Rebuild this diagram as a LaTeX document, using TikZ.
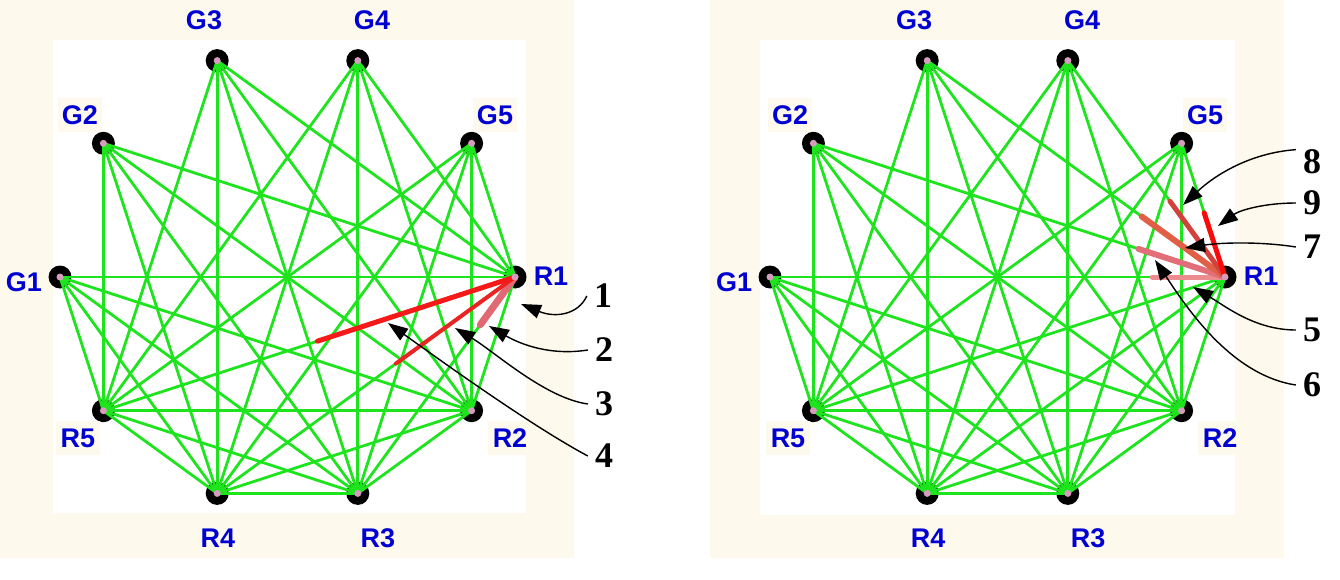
\documentclass[tikz,border=0pt]{standalone}
\usepackage{fontspec}
\setmainfont{Liberation Serif}
\newfontfamily\lblfont{Liberation Sans}
\usetikzlibrary{calc,arrows.meta}
\definecolor{cream}{RGB}{254,249,237}
\definecolor{edgegreen}{RGB}{30,228,30}
\definecolor{lblblue}{RGB}{0,0,210}
\definecolor{dotpink}{RGB}{215,155,190}
\definecolor{redA}{RGB}{245,25,25}
\definecolor{redB}{RGB}{235,35,35}
\definecolor{redC}{RGB}{225,105,115}
\definecolor{redNine}{RGB}{250,10,10}
\definecolor{redEight}{RGB}{210,65,60}
\definecolor{redSeven}{RGB}{225,95,70}
\definecolor{redSix}{RGB}{225,110,120}
\definecolor{redFive}{RGB}{235,140,145}
\begin{document}
\begin{tikzpicture}[x=1pt,y=-1pt,
  vtx/.style={circle,fill=black,minimum size=23pt,inner sep=0pt},
  edge/.style={draw=edgegreen,line width=2.8pt},
  vlabel/.style={fill=cream,minimum width=44pt,minimum height=34pt,inner sep=0pt,
    text=lblblue,font=\lblfont\bfseries\fontsize{27}{27}\selectfont},
  numlabel/.style={inner xsep=7pt,inner ysep=0pt,font=\bfseries\fontsize{36}{36}\selectfont},
  seg/.style={line cap=round},
  callout/.style={draw=black,line width=1.4pt,-{Triangle[length=20pt,width=14pt]}}]
\useasboundingbox (0,0) rectangle (1340,580);
\fill[white] (0,0) rectangle (1340,580);
\fill[cream] (0,0) rectangle (574,558);
\fill[white] (53,40) rectangle (526,513);
\fill[cream] (710,0) rectangle (1284,558);
\fill[white] (760,40) rectangle (1235,515);
% vertices
\foreach \p/\ox in {L/0,R/710}{
  \foreach \n/\x/\y in {G1/60/277,G2/103.4/143.3,G3/217.2/60.6,G4/357.8/60.6,G5/471.6/143.3,
                        R1/515/277,R2/471.6/410.7,R3/357.8/493.4,R4/217.2/493.4,R5/103.4/410.7}{
    \node[vtx] (\p\n) at (\x+\ox,\y) {};
  }
}
% edges
\foreach \p in {L,R}{
  \foreach \g in {G1,G2,G3,G4,G5}{
    \foreach \r in {R1,R2,R3,R4,R5}{
      \draw[edge] (\p\g.center) -- (\p\r.center);
    }
  }
  \foreach \a/\b in {R1/R2,R1/R3,R1/R4,R1/R5,R2/R3,R2/R4,R2/R5,R3/R4,R3/R5,R4/R5}{
    \draw[edge] (\p\a.center) -- (\p\b.center);
  }
}
% red partial segments, left panel
\draw[seg,draw=redC,line width=7pt] (LR1.center) -- ($(LR1.center)!0.22!(LR3.center)$);
\draw[seg,draw=redB,line width=4pt] (LR1.center) -- ($(LR1.center)!0.40!(LR4.center)$);
\draw[seg,draw=redA,line width=5pt] (LR1.center) -- ($(LR1.center)!0.48!(LR5.center)$);
% red partial segments, right panel
\draw[seg,draw=redFive,line width=5pt] (RR1.center) -- ($(RR1.center)!0.16!(RG1.center)$);
\draw[seg,draw=redSix,line width=6pt] (RR1.center) -- ($(RR1.center)!0.21!(RG2.center)$);
\draw[seg,draw=redSeven,line width=6pt] (RR1.center) -- ($(RR1.center)!0.28!(RG3.center)$);
\draw[seg,draw=redEight,line width=5pt] (RR1.center) -- ($(RR1.center)!0.35!(RG4.center)$);
\draw[seg,draw=redNine,line width=5pt] (RR1.center) -- ($(RR1.center)!0.48!(RG5.center)$);
% pink centre dots
\foreach \p in {L,R}{
  \foreach \n in {G1,G2,G3,G4,G5,R1,R2,R3,R4,R5}{
    \fill[dotpink] (\p\n.center) circle (3.5);
  }
}
% vertex labels
\foreach \p/\ox in {L/0,R/710}{
  \foreach \n/\x/\y in {G1/24/282,G2/80/115,G3/204/20,G4/372/20,G5/495/115,
                        R1/551/276,R2/510/438,R3/378/538,R4/218/538,R5/78/438}{
    \node[vlabel] (\p\n-lbl) at (\x+\ox,\y) {\n};
  }
}
% number labels
\node[numlabel] (n1) at (603,296) {1};
\node[numlabel] (n2) at (604,350) {2};
\node[numlabel] (n3) at (604,404) {3};
\node[numlabel] (n4) at (604,456) {4};
\node[numlabel] (n8) at (1312,162) {8};
\node[numlabel] (n9) at (1312,203) {9};
\node[numlabel] (n7) at (1312,247) {7};
\node[numlabel] (n5) at (1312,330) {5};
\node[numlabel] (n6) at (1312,385) {6};
% arrow tips
\coordinate (t1) at (521,304);
\coordinate (t2) at (489,326);
\coordinate (t3) at (455,328);
\coordinate (t4) at (388,323);
\coordinate (t8) at (1183,205);
\coordinate (t9) at (1218,226);
\coordinate (t7) at (1185,248);
\coordinate (t5) at (1193,287);
\coordinate (t6) at (1155,260);
% callout arrows
\draw[callout] (n1.west) .. controls (578,315) and (555,318) .. (t1);
\draw[callout] (n2.west) .. controls (550,356) and (520,344) .. (t2);
\draw[callout] (n3.west) .. controls (545,398) and (495,352) .. (t3);
\draw[callout] (n4.west) .. controls (530,425) and (440,360) .. (t4);
\draw[callout] (n8.north west) .. controls (1250,153) and (1215,175) .. (t8);
\draw[callout] (n9.west) .. controls (1265,203) and (1240,210) .. (t9);
\draw[callout] (n7.west) .. controls (1265,242) and (1225,242) .. (t7);
\draw[callout] (n5.west) .. controls (1255,330) and (1225,306) .. (t5);
\draw[callout] (n6.west) .. controls (1230,375) and (1185,305) .. (t6);
\end{tikzpicture}
\end{document}
